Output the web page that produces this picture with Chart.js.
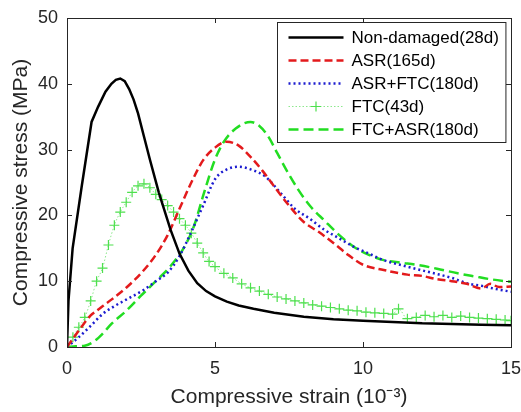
<!DOCTYPE html>
<html>
<head>
<meta charset="utf-8">
<script src="https://cdn.jsdelivr.net/npm/chart.js@4"></script>
<style>
  html, body { margin: 0; padding: 0; background: #fff; }
  #wrap { width: 521px; height: 412px; }
</style>
</head>
<body>
<div id="wrap"><canvas id="c" width="521" height="412"></canvas></div>
<script>
// strain (10^-3) / stress (MPa)
const ndStrain = [0, 0.05, 0.19, 0.5, 0.83, 1.05, 1.3, 1.5, 1.65, 1.8, 1.95, 2.1, 2.25, 2.4, 2.6, 2.8, 3.1, 3.5, 3.8, 4.1, 4.4, 4.7, 5.0, 5.4, 5.8, 6.3, 7.0, 8.0, 9.0, 10.0, 11.0, 12.0, 13.0, 14.0, 15.0]
const ndStress = [0, 7, 15, 24.5, 34.2, 36.5, 38.8, 40.0, 40.6, 40.8, 40.4, 39.2, 37.6, 35.5, 32, 28.5, 23.5, 17.8, 14.2, 11.6, 9.7, 8.5, 7.7, 6.9, 6.3, 5.8, 5.2, 4.6, 4.2, 4.0, 3.8, 3.6, 3.5, 3.4, 3.3]

const asrStrain = [0, 0.4, 0.8, 1.0, 1.5, 2.0, 2.6, 3.0, 3.4, 3.8, 4.2, 4.6, 5.0, 5.4, 5.8, 6.2, 6.6, 7.0, 7.5, 8.0, 8.5, 9.0, 9.5, 10.0, 10.7, 11.5, 12.0, 12.5, 13.0, 13.5, 14.0, 14.3, 14.6, 15.0]
const asrStress = [0, 2.5, 4.8, 5.5, 7.2, 9, 11.7, 14, 17, 21, 25, 28.4, 30.3, 31.2, 30.6, 28.9, 26.8, 24.4, 21.5, 19, 17.5, 15.8, 14, 12.5, 11.7, 11.0, 10.8, 10.3, 10.0, 9.6, 8.9, 9.6, 9.1, 9.2]

const asrFtcStrain = [0, 0.4, 0.8, 1.2, 1.6, 2.0, 2.6, 3.0, 3.4, 3.8, 4.2, 4.6, 5.0, 5.4, 5.8, 6.2, 6.7, 7.2, 7.7, 8.2, 8.7, 9.2, 9.7, 10.2, 10.7, 11.5, 12.4, 13.0, 13.5, 14.0, 14.5, 15.0]
const asrFtcStress = [0, 1.5, 3.2, 5.0, 6.2, 7.2, 8.7, 10, 11.3, 13.8, 17.5, 21.5, 25.5, 27.0, 27.4, 27.0, 25.9, 23.5, 21.0, 19.5, 17.8, 16.5, 15.2, 14.2, 13.2, 12.2, 11.2, 10.5, 9.7, 9.3, 8.8, 8.4]

const ftcStrain = [0, 0.2, 0.4, 0.6, 0.8, 1.0, 1.2, 1.4, 1.6, 1.8, 2.0, 2.2, 2.4, 2.6, 2.8, 3.0, 3.2, 3.4, 3.6, 3.8, 4.0, 4.2, 4.4, 4.6, 4.8, 5.0, 5.3, 5.6, 5.9, 6.2, 6.5, 6.8, 7.1, 7.4, 7.7, 8.0, 8.3, 8.6, 8.9, 9.2, 9.5, 9.8, 10.1, 10.4, 10.7, 11.0, 11.2, 11.5, 11.8, 12.1, 12.4, 12.7, 13.0, 13.3, 13.6, 13.9, 14.2, 14.5, 14.8, 15.0]
const ftcStress = [0, 1.5, 3.0, 4.5, 7.0, 10.0, 12.0, 15.5, 18.5, 20.5, 22.0, 23.5, 24.5, 24.8, 24.2, 23.2, 22.4, 21.5, 20.5, 19.5, 18.5, 17.3, 15.8, 14.3, 13.0, 12.2, 11.2, 10.5, 9.6, 9.0, 8.5, 8.0, 7.6, 7.3, 7.0, 6.7, 6.4, 6.2, 6.0, 5.8, 5.6, 5.5, 5.3, 5.2, 5.1, 5.0, 5.8, 4.3, 4.5, 4.8, 4.6, 4.8, 4.5, 4.7, 4.5, 4.4, 4.3, 4.2, 4.1, 4.0]

const ftcAsrStrain = [0, 0.3, 0.6, 0.9, 1.2, 1.5, 2.0, 2.5, 3.0, 3.5, 4.0, 4.3, 4.6, 5.0, 5.3, 5.7, 6.2, 6.5, 6.8, 7.1, 7.4, 7.8, 8.2, 8.7, 9.2, 9.7, 10.2, 10.7, 11.3, 11.8, 12.5, 13.2, 13.8, 14.3, 15.0]
const ftcAsrStress = [0, 0.1, 0.2, 0.8, 2.0, 3.5, 5.5, 7.8, 10, 12.3, 15.5, 18.5, 23, 28.5, 31.2, 33.2, 34.2, 33.6, 32, 29.5, 27, 24, 21.5, 19.2, 17.0, 15.2, 14.0, 13.2, 12.8, 12.5, 11.9, 11.2, 10.7, 10.3, 9.9]

const seriesLabels = ['Non-damaged(28d)', 'ASR(165d)', 'ASR+FTC(180d)', 'FTC(43d)', 'FTC+ASR(180d)']
const xTicks = [0, 5, 10, 15]
const yTicks = [0, 10, 20, 30, 40, 50]

const AXIS = '#262626'
const FONT = "'Liberation Sans', Arial, Helvetica, sans-serif"

function pts(xs, ys) {
  return xs.map((x, i) => ({ x: x, y: ys[i] }))
}

function line(label, xs, ys, color, width, dash, extra) {
  return Object.assign({
    label: label,
    data: pts(xs, ys),
    borderColor: color,
    backgroundColor: color,
    borderWidth: width,
    borderDash: dash,
    pointRadius: 0,
    fill: false,
    cubicInterpolationMode: 'monotone'
  }, extra || {})
}

// MATLAB style box with inward ticks on all four sides
const boxTicks = {
  id: 'boxTicks',
  afterDatasetsDraw(chart) {
    let { ctx, chartArea: a, scales } = chart
    ctx.save()
    ctx.strokeStyle = AXIS
    ctx.lineWidth = 1
    ctx.beginPath()
    scales.x.ticks.forEach(t => {
      let px = Math.round(scales.x.getPixelForValue(t.value)) + 0.5
      ctx.moveTo(px, a.bottom); ctx.lineTo(px, a.bottom - 5)
      ctx.moveTo(px, a.top); ctx.lineTo(px, a.top + 5)
    })
    scales.y.ticks.forEach(t => {
      let py = Math.round(scales.y.getPixelForValue(t.value)) + 0.5
      ctx.moveTo(a.left, py); ctx.lineTo(a.left + 5, py)
      ctx.moveTo(a.right, py); ctx.lineTo(a.right - 5, py)
    })
    ctx.stroke()
    ctx.strokeRect(Math.round(a.left) + 0.5, Math.round(a.top) + 0.5,
      Math.round(a.right - a.left), Math.round(a.bottom - a.top))
    ctx.restore()
  }
}

// legend box in the top right corner of the axes
const boxLegend = {
  id: 'boxLegend',
  afterDraw(chart) {
    let { ctx, chartArea: a } = chart
    let sets = chart.data.datasets
    let rowH = 23, sample = 55, gap = 8
    ctx.save()
    ctx.font = '17px ' + FONT
    let textW = Math.max(...sets.map(d => ctx.measureText(d.label).width))
    let w = 12 + sample + gap + textW + 6
    let h = rowH * sets.length + 5
    let x0 = Math.round(a.right - 6 - w) + 0.5
    let y0 = Math.round(a.top + 4) + 0.5
    ctx.fillStyle = '#fff'
    ctx.fillRect(x0, y0, w, h)
    ctx.strokeStyle = AXIS
    ctx.lineWidth = 1
    ctx.strokeRect(x0, y0, w, h)
    sets.forEach((d, i) => {
      let cy = y0 + 15 + i * rowH
      let sx = x0 + 11
      ctx.strokeStyle = d.borderColor
      ctx.lineWidth = d.borderWidth
      ctx.setLineDash(d.borderDash || [])
      ctx.beginPath()
      ctx.moveTo(sx, cy); ctx.lineTo(sx + sample, cy)
      ctx.stroke()
      ctx.setLineDash([])
      if (d.pointStyle === 'cross') {
        let mx = sx + sample / 2, r = d.pointRadius
        ctx.strokeStyle = d.pointBorderColor
        ctx.lineWidth = d.pointBorderWidth
        ctx.beginPath()
        ctx.moveTo(mx - r, cy); ctx.lineTo(mx + r, cy)
        ctx.moveTo(mx, cy - r); ctx.lineTo(mx, cy + r)
        ctx.stroke()
      }
      ctx.fillStyle = '#000'
      ctx.textBaseline = 'middle'
      ctx.fillText(d.label, sx + sample + gap, cy + 1)
    })
    ctx.restore()
  }
}

Chart.defaults.font.family = FONT
Chart.defaults.color = AXIS

let chart = new Chart(document.getElementById('c'), {
  type: 'line',
  data: {
    datasets: [
      line(seriesLabels[0], ndStrain, ndStress, '#000000', 2.5, [], { cubicInterpolationMode: 'default', tension: 0 }),
      line(seriesLabels[1], asrStrain, asrStress, '#e31a1c', 2.5, [8, 4]),
      line(seriesLabels[2], asrFtcStrain, asrFtcStress, '#1c1cd0', 2.5, [2, 3]),
      line(seriesLabels[3], ftcStrain, ftcStress, '#8de88d', 1, [1.5, 2], {
        pointStyle: 'cross',
        pointRadius: 5,
        pointBorderColor: '#4ee04e',
        pointBorderWidth: 1.2
      }),
      line(seriesLabels[4], ftcAsrStrain, ftcAsrStress, '#22dd22', 2.5, [10, 5])
    ]
  },
  options: {
    responsive: false,
    animation: false,
    layout: { padding: { left: 0, top: 18, right: 10, bottom: 0 } },
    plugins: { legend: { display: false }, tooltip: { enabled: false } },
    scales: {
      x: {
        type: 'linear',
        min: 0,
        max: 15,
        afterFit(scale) {
          scale.height = 65
          scale.paddingLeft = 0
          scale.paddingRight = 0
        },
        afterBuildTicks(scale) { scale.ticks = xTicks.map(v => ({ value: v })) },
        grid: { drawOnChartArea: false, drawTicks: false },
        border: { display: false },
        ticks: { font: { size: 18 }, padding: 11, maxRotation: 0 },
        title: {
          display: true,
          text: 'Compressive strain (10⁻³)',
          font: { size: 21 },
          padding: { top: 0, bottom: 2 }
        }
      },
      y: {
        type: 'linear',
        min: 0,
        max: 50,
        afterFit(scale) {
          scale.width = 67
          scale.paddingTop = 0
          scale.paddingBottom = 0
        },
        afterBuildTicks(scale) { scale.ticks = yTicks.map(v => ({ value: v })) },
        grid: { drawOnChartArea: false, drawTicks: false },
        border: { display: false },
        ticks: { font: { size: 18 }, padding: 9 },
        title: {
          display: true,
          text: 'Compressive stress (MPa)',
          font: { size: 21 },
          padding: { top: 9, bottom: 0 }
        }
      }
    }
  },
  plugins: [boxTicks, boxLegend]
})
</script>
</body>
</html>
